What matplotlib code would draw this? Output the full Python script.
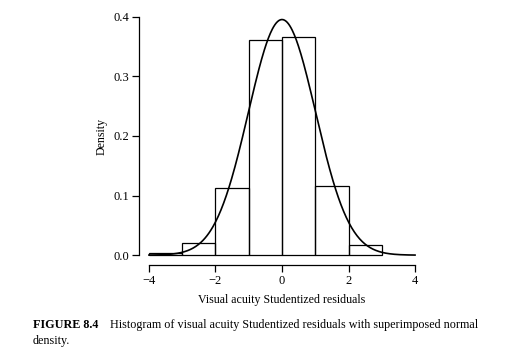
import numpy as np
import matplotlib
matplotlib.use("Agg")
import matplotlib.pyplot as plt

# histogram of Studentized residuals (density scale)
bin_edges = [-4, -3, -2, -1, 0, 1, 2, 3]
densities = [0.003, 0.020, 0.113, 0.360, 0.366, 0.116, 0.017]
x_ticks = [-4, -2, 0, 2, 4]
y_ticks = [0.0, 0.1, 0.2, 0.3, 0.4]
y_tick_labels = ["0.0", "0.1", "0.2", "0.3", "0.4"]

# superimposed normal density
mu = 0.0
sigma = 1.01

plt.rcParams["font.family"] = ["Liberation Serif", "DejaVu Serif"]

fig = plt.figure(figsize=(5.18, 3.6), dpi=100)
ax = fig.add_axes([139 / 518, 1 - 265 / 360, 286 / 518, 258 / 360])

ax.bar(bin_edges[:-1], densities, width=np.diff(bin_edges), align="edge",
       fill=False, edgecolor="black", linewidth=0.9)

xs = np.linspace(-4, 4, 400)
ys = np.exp(-0.5 * ((xs - mu) / sigma) ** 2) / (sigma * np.sqrt(2 * np.pi))
ax.plot(xs, ys, color="black", linewidth=1.2)

ax.set_xlim(-4.3, 4.3)
ax.set_ylim(-0.0165, 0.416)

for s in ["top", "right"]:
    ax.spines[s].set_visible(False)
ax.spines["left"].set_bounds(0, 0.4)
ax.spines["bottom"].set_bounds(-4, 4)
for s in ["left", "bottom"]:
    ax.spines[s].set_linewidth(0.9)

ax.set_xticks(x_ticks)
ax.set_xticklabels([str(t).replace("-", "\u2212") for t in x_ticks])
ax.set_yticks(y_ticks)
ax.set_yticklabels(y_tick_labels)
ax.tick_params(direction="out", length=5, width=0.9, labelsize=9, pad=2)

ax.set_ylabel("Density", fontsize=8.6, labelpad=4)
ax.set_xlabel("Visual acuity Studentized residuals", fontsize=8.6, labelpad=5)

fig.text(33 / 518, 1 - 325 / 360, "FIGURE 8.4", fontsize=8.7, fontweight="bold",
         va="center", ha="left")
fig.text(110 / 518, 1 - 325 / 360,
         "Histogram of visual acuity Studentized residuals with superimposed normal",
         fontsize=8.7, va="center", ha="left")
fig.text(33 / 518, 1 - 341 / 360, "density.", fontsize=8.7, va="center", ha="left")

fig.savefig("out.png", dpi=100)
